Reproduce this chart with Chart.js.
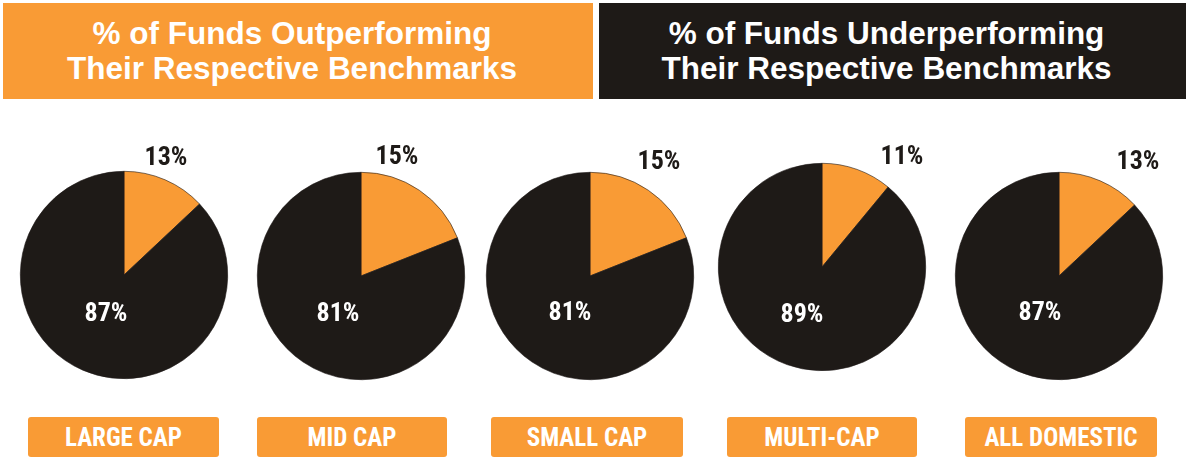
<!DOCTYPE html>
<html>
<head>
<meta charset="utf-8">
<script src="https://cdn.jsdelivr.net/npm/chart.js@4.4.1/dist/chart.umd.min.js"></script>
<style>
  html, body { margin: 0; padding: 0; background: #ffffff; }
  #stage { position: relative; width: 1189px; height: 459px; overflow: hidden; background: #fff; }
  .hdr { position: absolute; top: 3px; height: 96px; color: #fff; font-family: "Liberation Sans", Arial, sans-serif;
         font-weight: bold; font-size: 31.5px; line-height: 35px; text-align: center; box-sizing: border-box;
         padding-top: 13px; padding-right: 12px; }
  .cat { position: absolute; top: 417px; height: 40px; background: #F99B35; border-radius: 3px; color: #fff;
         font-family: "Liberation Sans Narrow", "Roboto Condensed", "DejaVu Sans Condensed", Roboto, sans-serif;
         font-weight: bold; font-size: 25px; line-height: 41px; text-align: center; }
  canvas.pie { position: absolute; }
</style>
</head>
<body>
<div id="stage"></div>
<script>
// ---- data ----
const headers = ["% of Funds Outperforming\nTheir Respective Benchmarks", "% of Funds Underperforming\nTheir Respective Benchmarks"];
const categories = ["LARGE CAP", "MID CAP", "SMALL CAP", "MULTI-CAP", "ALL DOMESTIC"];
const outperforming = [13, 15, 15, 11, 13];      // labelled %
const underperforming = [87, 81, 81, 89, 87];    // labelled %
const wedgeOrange = [13, 19, 19, 11, 13];        // orange wedge share as drawn in the picture
const wedgeBlack = [87, 81, 81, 89, 87];         // black wedge share as drawn

// ---- layout / style ----
const ORANGE = "#F99B35";
const DARK = "#1E1A17";
const centers = [[124, 275], [361, 276], [590, 276], [822, 267], [1059, 276]];
const outerOff = [[42, -117], [36, -119], [69, -114], [80, -110], [79, -114]];
const innerOff = [[-18, 39], [-23, 38], [-20, 37], [-20, 48], [-19, 37]];
const catBoxes = [[28, 191], [257, 190], [491, 192], [727, 190], [965, 192]];
const R = 104, CW = 300, CH = 262, CX = 150, CY = 150;

const stage = document.getElementById("stage");
// headers
[[3, 590, ORANGE], [599, 587, DARK]].forEach((b, i) => {
  const d = document.createElement("div");
  d.className = "hdr";
  d.style.left = b[0] + "px"; d.style.width = b[1] + "px"; d.style.background = b[2];
  d.innerHTML = headers[i].split("\n").join("<br>");
  stage.appendChild(d);
});
// category boxes
categories.forEach((c, i) => {
  const d = document.createElement("div");
  d.className = "cat";
  d.style.left = catBoxes[i][0] + "px"; d.style.width = catBoxes[i][1] + "px";
  d.textContent = c;
  stage.appendChild(d);
});

const labelPlugin = {
  id: "pctLabels",
  afterDraw(chart) {
    const o = chart.options.plugins.pctLabels;
    const arc = chart.getDatasetMeta(0).data[0];
    const ctx = chart.ctx;
    ctx.save();
    ctx.font = "bold 26px 'Liberation Sans Narrow', 'Roboto Condensed', 'DejaVu Sans Condensed', Roboto, sans-serif";
    ctx.textAlign = "center"; ctx.textBaseline = "middle";
    ctx.fillStyle = DARK;
    ctx.fillText(o.outer + "%", arc.x + o.outerOff[0], arc.y + o.outerOff[1]);
    ctx.fillStyle = "#ffffff";
    ctx.fillText(o.inner + "%", arc.x + o.innerOff[0], arc.y + o.innerOff[1]);
    ctx.restore();
  }
};

categories.forEach((c, i) => {
  const cv = document.createElement("canvas");
  cv.className = "pie";
  cv.width = CW; cv.height = CH;
  cv.style.width = CW + "px"; cv.style.height = CH + "px";
  cv.style.left = (centers[i][0] - CX) + "px";
  cv.style.top = (centers[i][1] - CY) + "px";
  stage.appendChild(cv);
  new Chart(cv, {
    type: "pie",
    data: {
      labels: ["Outperforming", "Underperforming"],
      datasets: [{
        data: [wedgeOrange[i], wedgeBlack[i]],
        backgroundColor: [ORANGE, DARK],
        borderColor: DARK,
        borderWidth: 0.6,
        hoverOffset: 0
      }]
    },
    options: {
      responsive: false,
      animation: false,
      events: [],
      layout: { padding: { left: CX - R, right: CW - CX - R, top: CY - R, bottom: CH - CY - R } },
      plugins: {
        legend: { display: false },
        tooltip: { enabled: false },
        pctLabels: { outer: outperforming[i], inner: underperforming[i], outerOff: outerOff[i], innerOff: innerOff[i] }
      }
    },
    plugins: [labelPlugin]
  });
});
</script>
</body>
</html>
